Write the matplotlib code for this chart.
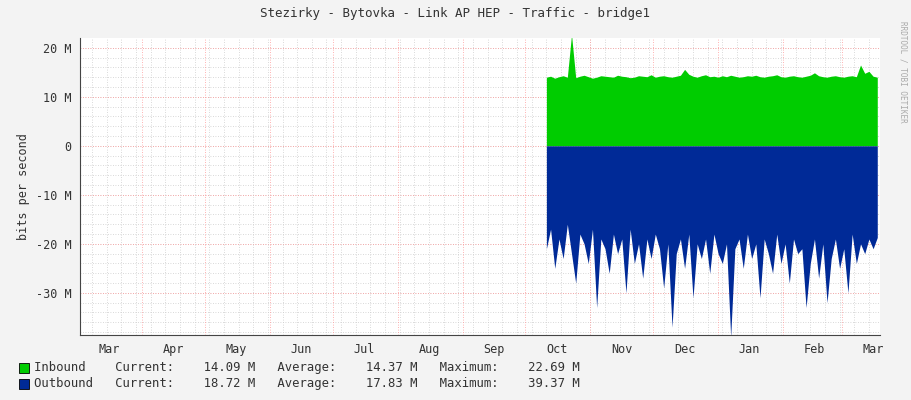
# RRDtool-style traffic graph for bridge1
import matplotlib
matplotlib.use('Agg')
import matplotlib.pyplot as plt
import numpy as np

month_labels = ['Mar', 'Apr', 'May', 'Jun', 'Jul', 'Aug', 'Sep', 'Oct', 'Nov', 'Dec', 'Jan', 'Feb', 'Mar']
month_starts = [0, 31, 61, 92, 122, 153, 184, 214, 245, 275, 306, 337, 365]

# samples every 2 days from day 224 (mid Oct) onward, values in Mbit/s
start_day = 224
inbound = [14.0, 14.2, 13.8, 14.1, 14.3, 14.0, 22.7, 13.9, 14.2, 14.4, 14.1, 13.8, 14.0, 14.3, 14.2,
           14.1, 14.0, 14.4, 14.2, 14.1, 13.9, 14.0, 14.3, 14.2, 14.1, 14.5, 14.0, 14.2, 14.3, 14.1,
           14.0, 14.2, 14.4, 15.6, 14.6, 14.2, 14.0, 14.3, 14.5, 14.1, 14.2, 14.0, 14.3, 14.1, 14.4,
           14.2, 14.0, 14.1, 14.3, 14.2, 14.4, 14.1, 14.0, 14.2, 14.3, 14.5, 14.1, 14.0, 14.2, 14.3,
           14.1, 14.0, 14.2, 14.4, 14.9, 14.3, 14.1, 14.0, 14.2, 14.3, 14.1, 14.0, 14.2, 14.3, 14.1,
           16.5, 14.8, 15.2, 14.2, 14.0]
outbound = [-21, -17, -25, -19, -23, -16, -22, -28, -18, -20, -24, -17, -33, -19, -21, -26, -18,
            -22, -19, -30, -17, -24, -20, -27, -19, -23, -18, -21, -29, -20, -37, -22, -19, -25,
            -18, -31, -20, -23, -19, -26, -18, -22, -24, -20, -39, -21, -19, -25, -18, -23, -20,
            -31, -19, -22, -26, -18, -24, -20, -28, -19, -22, -21, -33, -24, -19, -27, -20, -32,
            -23, -19, -25, -21, -30, -18, -24, -20, -22, -19, -21, -18.7]

days_in = start_day + 2 * np.arange(len(inbound))
days_out = start_day + 2 * np.arange(len(outbound))

bg = '#f3f3f3'
mono = 'DejaVu Sans Mono'
fig = plt.figure(figsize=(9.11, 4.0), dpi=100, facecolor=bg)
ax = fig.add_axes([80 / 911, 65 / 400, 800 / 911, 297 / 400], facecolor='white')

ax.fill_between(days_in, 0, inbound, color='#00cc00', linewidth=0)
ax.fill_between(days_out, 0, outbound, color='#002a97', linewidth=0)

ax.set_xlim(1.3, 383.3)
ax.set_ylim(-38.6, 22.0)

# grids
for y in np.arange(-38, 22, 2):
    ax.axhline(y, color='#cccccc', lw=0.6, ls=(0, (1, 2)), zorder=0)
for y in [-30, -20, -10, 0, 10, 20]:
    ax.axhline(y, color='#ff9999', lw=0.6, ls=(0, (1, 2)), zorder=0)
for d in np.arange(0, 384, 7):
    ax.axvline(d, color='#cccccc', lw=0.6, ls=(0, (1, 2)), zorder=0)
for d in month_starts[1:]:
    ax.axvline(d, color='#ff9999', lw=0.6, ls=(0, (1, 2)), zorder=0)

ax.set_yticks([-30, -20, -10, 0, 10, 20])
ax.set_yticklabels(['-30 M', '-20 M', '-10 M', '0', '10 M', '20 M'])
mids = [s + 15 for s in month_starts]
ax.set_xticks(mids)
ax.set_xticklabels(month_labels)
ax.tick_params(length=0, labelsize=8.5, colors='#333333', pad=6)
for lab in ax.get_xticklabels() + ax.get_yticklabels():
    lab.set_family(mono)
for s in ['top', 'right']:
    ax.spines[s].set_visible(False)
ax.spines['left'].set_color('#444444')
ax.spines['bottom'].set_color('#444444')
ax.set_ylabel('bits per second', family=mono, fontsize=8.5, color='#333333')

fig.text(0.5, 1 - 14 / 400, 'Stezirky - Bytovka - Link AP HEP - Traffic - bridge1',
         ha='center', va='center', family=mono, fontsize=9, color='#333333')
fig.text(903 / 911, 0.82, 'RRDTOOL / TOBI OETIKER', rotation=270, ha='center', va='center',
         family=mono, fontsize=5.5, color='#aaaaaa')

rows = [('#00cc00', 'Inbound    Current:    14.09 M   Average:    14.37 M   Maximum:    22.69 M', 368),
        ('#002a97', 'Outbound   Current:    18.72 M   Average:    17.83 M   Maximum:    39.37 M', 384)]
for color, txt, y in rows:
    fig.patches.append(plt.Rectangle((19 / 911, 1 - (y + 5) / 400), 10 / 911, 10 / 400,
                                     transform=fig.transFigure, facecolor=color, edgecolor='black', lw=0.6))
    fig.text(34 / 911, 1 - y / 400, txt, va='center', family=mono, fontsize=8.8, color='#333333')

plt.savefig('out.png', dpi=100, facecolor=bg)
